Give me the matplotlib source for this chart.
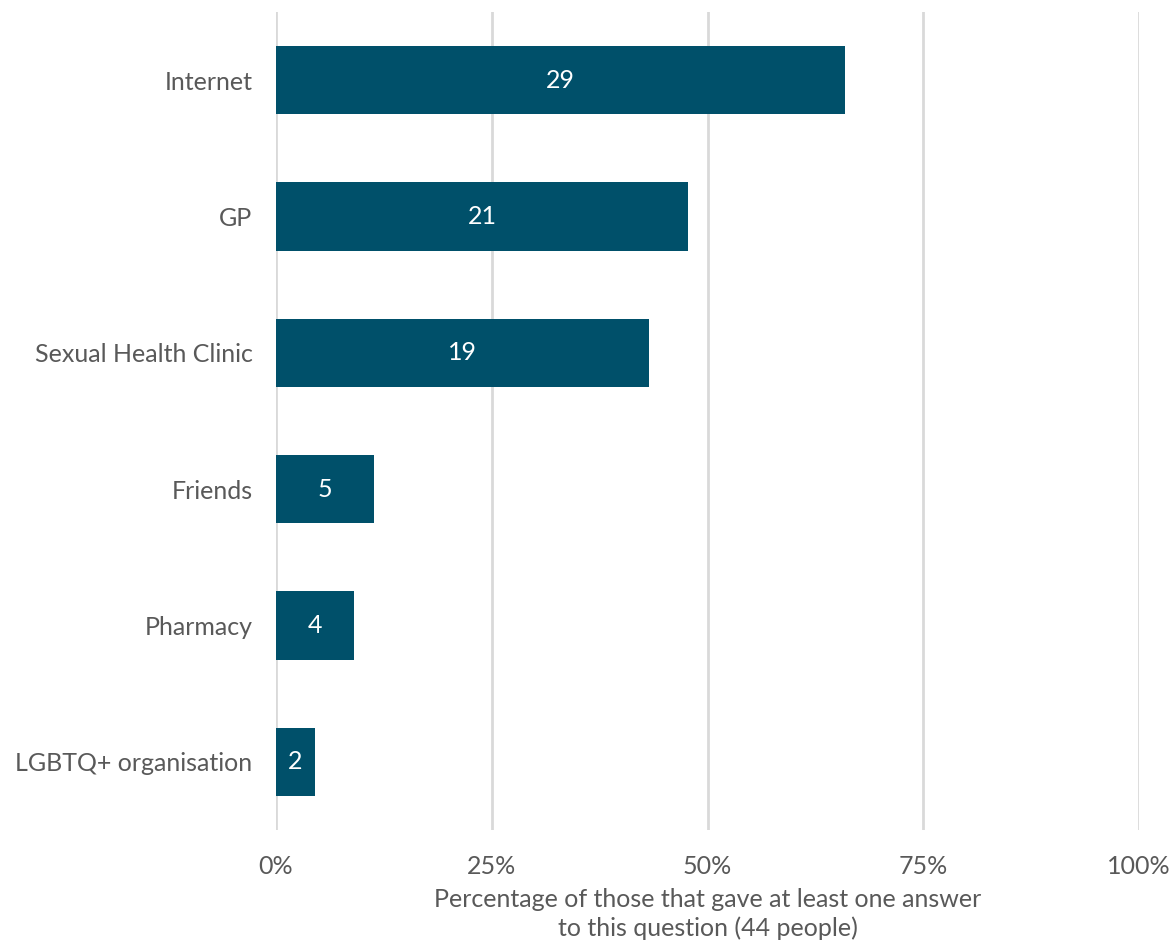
import matplotlib.pyplot as plt
from matplotlib.ticker import PercentFormatter

plt.rcParams['font.family'] = ['Lato', 'DejaVu Sans']

sources = ["Internet", "GP", "Sexual Health Clinic", "Friends", "Pharmacy", "LGBTQ+ organisation"]
counts = [29, 21, 19, 5, 4, 2]
total = 44
pct = [c / total * 100 for c in counts]

bar_col = "#00506a"
txt_col = "#595959"

fig = plt.figure(figsize=(11.73, 9.4), dpi=100)
ax = fig.add_axes([276 / 1173, 110 / 940, 863 / 1173, 818 / 940])

ypos = range(len(sources))
ax.barh(ypos, pct, height=0.5, color=bar_col, zorder=3)
for y, p, c in zip(ypos, pct, counts):
    ax.text(p / 2, y, str(c), ha='center', va='center', color='white', fontsize=18, zorder=4)

ax.set_ylim(5.5, -0.5)
ax.set_xlim(0, 100)
ax.set_xticks([0, 25, 50, 75, 100])
ax.xaxis.set_major_formatter(PercentFormatter(decimals=0))
ax.set_yticks(list(ypos))
ax.set_yticklabels(sources)
ax.grid(axis='x', color='#d9d9d9', linewidth=2, zorder=0)
for s in ax.spines.values():
    s.set_visible(False)
ax.tick_params(axis='both', length=0, labelsize=18, labelcolor=txt_col)
ax.tick_params(axis='y', pad=17)
ax.tick_params(axis='x', pad=18)
ax.set_xlabel("Percentage of those that gave at least one answer\nto this question (44 people)",
              fontsize=18, color=txt_col, labelpad=7, linespacing=1.3)

fig.savefig("out.png", dpi=100)
